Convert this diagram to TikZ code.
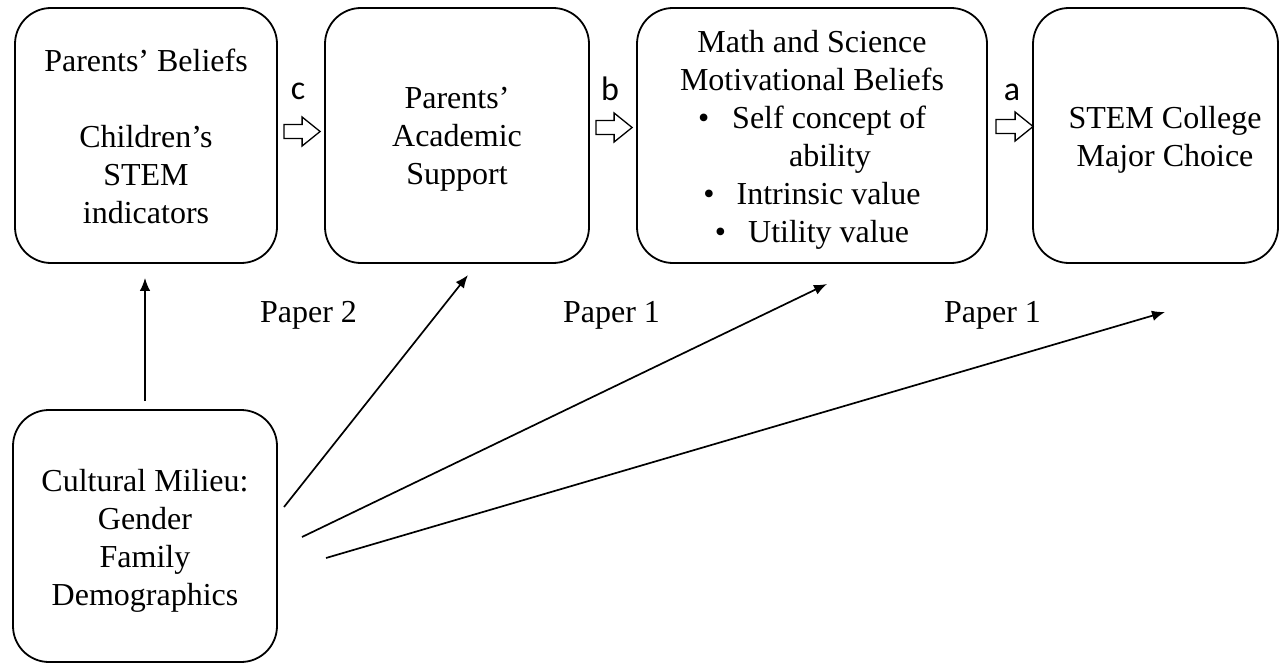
\documentclass[tikz,border=0pt]{standalone}
\usepackage{fontspec}
\setmainfont{Liberation Serif}
\newfontfamily\letterfont{Carlito}
\usetikzlibrary{calc,arrows.meta}

\tikzset{
  box/.style={draw, line width=1.8pt, rounded corners=36pt, inner sep=0pt},
  boxtext/.style={align=center, font=\fontsize{32}{38}\selectfont, inner sep=0pt},
  paper/.style={font=\fontsize{32}{38}\selectfont, anchor=base, inner sep=0pt},
  pathletter/.style={font=\letterfont\fontsize{34}{40}\selectfont, anchor=base, inner sep=0pt},
  blockarr/.style={draw, line width=1.3pt, fill=white, line join=miter},
  link/.style={line width=1.7pt, -{Latex[length=13pt,width=10.5pt]}}
}

% hollow block arrow pointing right, from #1 to #2
\newcommand\blockarrow[2]{%
  \draw[blockarr] ($(#1)+(0,-7)$) -- ($(#2)+(-18,-7)$) -- ($(#2)+(-18,-14.5)$)
    -- (#2) -- ($(#2)+(-18,14.5)$) -- ($(#2)+(-18,7)$) -- ($(#1)+(0,7)$) -- cycle;}

\begin{document}
\begin{tikzpicture}[x=1pt, y=-1pt]
  \useasboundingbox[fill=white] (0,0) rectangle (1281,663);

  % boxes
  \node[box, minimum width=262pt, minimum height=255pt] (b1) at (146,135.5) {};
  \node[box, minimum width=264pt, minimum height=255pt] (b2) at (457,135.5) {};
  \node[box, minimum width=350pt, minimum height=255pt] (b3) at (812,135.5) {};
  \node[box, minimum width=245pt, minimum height=255pt] (b4) at (1155.5,135.5) {};
  \node[box, minimum width=264pt, minimum height=252pt] (b5) at (145,536) {};

  % box texts
  \node[boxtext] (t1) at (146,136) {Parents’ Beliefs\\[38pt]Children’s\\STEM\\indicators};
  \node[boxtext] (t2) at (457,139.5) {Parents’\\Academic\\Support};
  \node[boxtext] (t3) at (812,140) {Math and Science\\Motivational Beliefs\\
    \textbullet\hspace{23pt}Self concept of\\
    \hspace*{36pt}ability\\
    \textbullet\hspace{22pt}Intrinsic value\\
    \textbullet\hspace{22pt}Utility value};
  \node[boxtext] (t4) at (1165,140) {STEM College\\Major Choice};
  \node[boxtext] (t5) at (145,541) {Cultural Milieu:\\Gender\\Family\\Demographics};

  % path letters
  \node[pathletter] (lc) at (298,100) {c};
  \node[pathletter] (lb) at (610,101) {b};
  \node[pathletter] (la) at (1012,101) {a};

  % block arrows between boxes
  \coordinate (ca0) at ($(b1.east)+(6,-4)$);
  \coordinate (ca1) at ($(b2.west)+(-4,-4)$);
  \coordinate (cb0) at ($(b2.east)+(6,-8)$);
  \coordinate (cb1) at ($(b3.west)+(-4,-8)$);
  \coordinate (cc0) at ($(b3.east)+(8,-9)$);
  \coordinate (cc1) at ($(b4.west)+(1,-9)$);
  \blockarrow{ca0}{ca1}
  \blockarrow{cb0}{cb1}
  \blockarrow{cc0}{cc1}

  % links from the cultural milieu box
  \coordinate (v0) at ($(b5.north)+(0,-8)$);
  \coordinate (v1) at ($(b1.south)+(-1,14)$);
  \draw[link] (v0) -- (v1);

  \coordinate (d1s) at (284,507);
  \coordinate (d1e) at (468,275);
  \coordinate (d2s) at (302,537);
  \coordinate (d2e) at (827,284);
  \coordinate (d3s) at (326,558);
  \coordinate (d3e) at (1165,312);
  \draw[link] (d1s) -- (d1e);
  \draw[link] (d2s) -- (d2e);
  \draw[link] (d3s) -- (d3e);

  % paper labels
  \node[paper] (p2) at (308.5,322) {Paper 2};
  \node[paper] (p1a) at (611.5,322) {Paper 1};
  \node[paper] (p1b) at (992.5,322) {Paper 1};
\end{tikzpicture}
\end{document}
